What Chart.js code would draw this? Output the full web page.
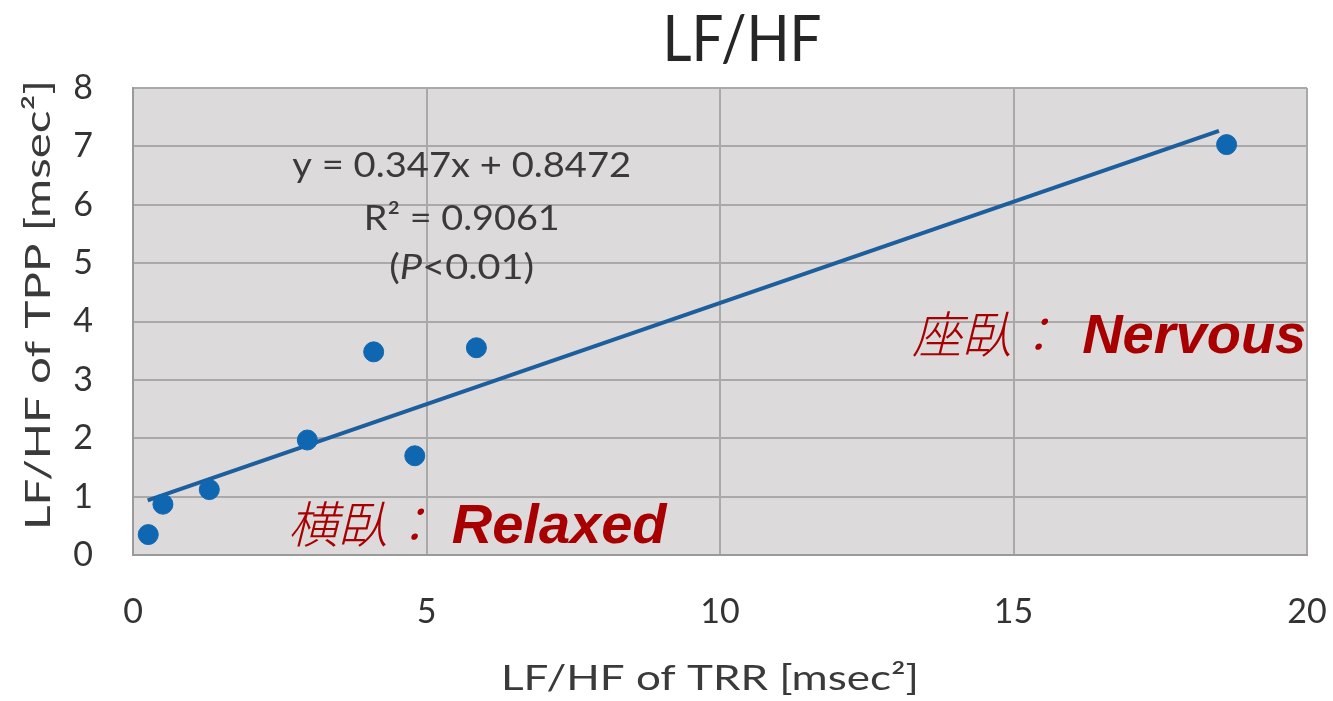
<!DOCTYPE html>
<html><head><meta charset="utf-8">
<script src="https://cdn.jsdelivr.net/npm/chart.js@4/dist/chart.umd.min.js"></script>
<style>html,body{margin:0;padding:0;background:#fff}#wrap{width:1333px;height:701px}</style>
</head><body><div id="wrap"><canvas id="c" width="1333" height="701"></canvas></div>
<script>
const trrX = [0.26, 0.51, 1.30, 2.97, 4.10, 4.80, 5.85, 18.63];
const tppY = [0.35, 0.87, 1.12, 1.97, 3.48, 1.70, 3.55, 7.03];
const trendSlope = 0.347, trendIntercept = 0.8472;
const trendRange = [0.25, 18.5];
const xTicks = [0, 5, 10, 15, 20];
const yTicks = [0, 1, 2, 3, 4, 5, 6, 7, 8];
const titleText = 'LF/HF';
const xTitle = 'LF/HF of TRR [msec²]';
const yTitle = 'LF/HF of TPP [msec²]';
const eqLines = ['y = 0.347x + 0.8472', 'R² = 0.9061'];
const labelsCJK = ['横臥：', '座臥：'];
const labelsEN = ['Relaxed', 'Nervous'];

const points = trrX.map((x, i) => ({x, y: tppY[i]}));
const trend = trendRange.map(x => ({x, y: trendSlope * x + trendIntercept}));
const FONT = 'Lato, "Open Sans", sans-serif';

// draw text centred at (cx, by) stretched/squeezed to a target width
function fitText(ctx, text, cx, by, width, font, rot) {
  ctx.save();
  ctx.font = font;
  ctx.textAlign = 'center';
  ctx.textBaseline = 'alphabetic';
  const w = ctx.measureText(text).width;
  ctx.translate(cx, by);
  if (rot) ctx.rotate(rot);
  ctx.scale(width / w, 1);
  ctx.fillText(text, 0, 0);
  ctx.restore();
}

const overlay = {
  id: 'overlay',
  beforeDraw(chart) {
    const {ctx, chartArea: a} = chart;
    ctx.save();
    ctx.fillStyle = '#dcdadb';
    ctx.fillRect(a.left, a.top, a.right - a.left, a.bottom - a.top);
    ctx.restore();
  },
  afterDraw(chart) {
    const {ctx, scales: {x, y}} = chart;
    ctx.save();
    ctx.fillStyle = '#262626';
    fitText(ctx, titleText, 742, 61, 159, '64px ' + FONT);
    ctx.fillStyle = '#3a3a3a';
    fitText(ctx, xTitle, 710, 690, 418, '35px ' + FONT);
    fitText(ctx, yTitle, 50, 305, 450, '35px ' + FONT, -Math.PI / 2);
    // equation
    ctx.fillStyle = '#3a3a3a';
    const cx = x.getPixelForValue(5.6);
    fitText(ctx, eqLines[0], cx, y.getPixelForValue(6.48), 339, '35px ' + FONT);
    fitText(ctx, eqLines[1], cx, y.getPixelForValue(5.57), 196, '35px ' + FONT);
    // (P<0.01) with italic P
    const py = y.getPixelForValue(4.73);
    ctx.textAlign = 'left';
    ctx.textBaseline = 'alphabetic';
    const p1 = '(', p2 = 'P', p3 = '<0.01)';
    const f = '35px ' + FONT, fi = 'italic 35px ' + FONT;
    ctx.font = f; const w1 = ctx.measureText(p1).width;
    ctx.font = fi; const w2 = ctx.measureText(p2).width;
    ctx.font = f; const w3 = ctx.measureText(p3).width;
    const k = 145 / (w1 + w2 + w3);
    ctx.save();
    ctx.translate(cx - 145 / 2, py);
    ctx.scale(k, 1);
    ctx.font = f; ctx.fillText(p1, 0, 0);
    ctx.font = fi; ctx.fillText(p2, w1, 0);
    ctx.font = f; ctx.fillText(p3, w1 + w2, 0);
    ctx.restore();
    // red labels
    ctx.fillStyle = '#a80000';
    const anchors = [[2.64, 5.43, 0.2], [13.27, 16.17, 3.46]];
    anchors.forEach((an, i) => {
      const by = y.getPixelForValue(an[2]);
      ctx.font = 'italic 300 50px "Noto Sans CJK JP"';
      ctx.fillText(labelsCJK[i], x.getPixelForValue(an[0]), by);
      ctx.font = 'italic bold 56px "Liberation Sans", Arial, sans-serif';
      ctx.fillText(labelsEN[i], x.getPixelForValue(an[1]), by);
    });
    ctx.restore();
  }
};

new Chart(document.getElementById('c'), {
  type: 'scatter',
  data: {
    datasets: [
      {label: 'trend', type: 'line', data: trend, borderColor: '#1d5e9c', borderWidth: 4,
       pointRadius: 0, fill: false, order: 2},
      {label: 'LF/HF', data: points, backgroundColor: '#0f67b1', borderColor: '#0f67b1',
       pointRadius: 10, pointHoverRadius: 10, order: 1}
    ]
  },
  options: {
    responsive: false, animation: false,
    layout: {padding: {top: 88, right: 26, left: 0, bottom: 0}},
    plugins: {legend: {display: false}, tooltip: {enabled: false}, title: {display: false}},
    scales: {
      x: {type: 'linear', min: 0, max: 20,
        afterBuildTicks: s => { s.ticks = xTicks.map(v => ({value: v})); },
        afterFit: s => { s.height = 146; s.paddingRight = 0; s.paddingLeft = 0; },
        grid: {color: '#a9a9a9', lineWidth: 2, drawTicks: false},
        border: {color: '#9a9a9a', width: 2},
        ticks: {padding: 37, color: '#333', font: {family: FONT, size: 34}}
      },
      y: {type: 'linear', min: 0, max: 8,
        afterBuildTicks: s => { s.ticks = yTicks.map(v => ({value: v})); },
        afterFit: s => { s.width = 133; s.paddingTop = 0; s.paddingBottom = 0; },
        grid: {color: '#a9a9a9', lineWidth: 2, drawTicks: false},
        border: {color: '#9a9a9a', width: 2},
        ticks: {padding: 40, color: '#333', font: {family: FONT, size: 34}}
      }
    }
  },
  plugins: [overlay]
});
</script></body></html>
